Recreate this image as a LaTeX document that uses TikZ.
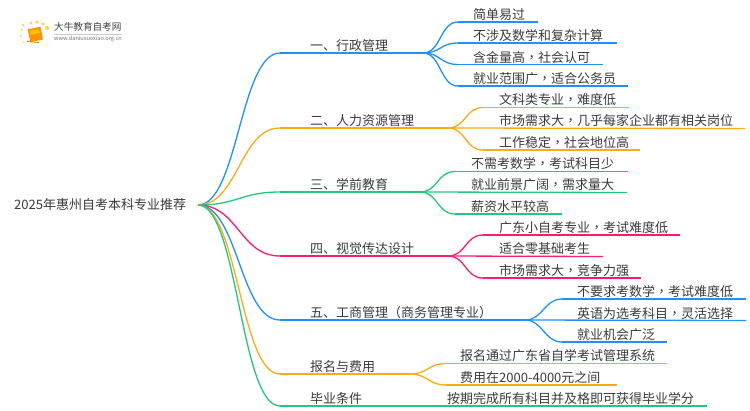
\documentclass[tikz,border=0pt]{standalone}
\usepackage{fontspec}
\setmainfont{Noto Sans CJK SC}
\newfontfamily\cjkmid{Noto Sans CJK TC}
\newcommand{\midc}{{\cjkmid ，}}

\definecolor{mInk}{HTML}{3a3a3a}
\definecolor{mBlue}{HTML}{1e90ff}
\definecolor{mOrange}{HTML}{ffaa14}
\definecolor{mGreen}{HTML}{1fc97c}
\definecolor{mPink}{HTML}{ff1a75}
\definecolor{mGold}{HTML}{ffd45e}

\begin{document}
\begin{tikzpicture}
  [x=1bp,y=-1bp,
  lab/.style={anchor=west,inner sep=0pt,text=mInk,text height=12bp,text depth=1bp,
    font=\fontsize{13bp}{15bp}\selectfont},
  pt/.style={coordinate},
  wire/.style={line width=1.3bp,draw=#1},
  bow/.style={to path={.. controls ([xshift=-#1]\tikztostart) and ([xshift=#1]\tikztotarget) .. (\tikztotarget)}}]

  \useasboundingbox (0,0) rectangle (750,410);

% logo
  \foreach \dotx/\doty/\dotr in {23/25/1.3,31/23/1.7,37/22/1.8,43/24/1.8,47/28/2.2,22/30/1.2,21/36/1.1,23/42/0.9}
    \fill[mGold] (\dotx,\doty) circle (\dotr);
  \fill[orange!85!yellow,rotate around={12:(35,35)}] (29,28) rectangle (42,41);
  \fill[orange!45!yellow,rotate around={12:(35,35)}] (31,30) rectangle (40,34);
  \draw[orange!90!black,line width=0.8bp] (27,41.5) -- (39,42.5);
  \node[lab,text=black!75,font=\fontsize{9.6bp}{11bp}\selectfont] (logo) at (54,25.3) {大牛教育自考网};
  \node[lab,text=black!55,font=\fontsize{5.6bp}{7bp}\selectfont] (url) at (54,34.7) {www.daniuxuexiao.org.cn};
  \draw[black!20,line width=0.4bp] ([yshift=-1.7bp]logo.south west) -- ([yshift=-1.7bp]logo.south east);

  \node[lab] (root) at (14,204) {2025年惠州自考本科专业推荐};
  \node[pt] (fan) at (198,205) {};

% admin
  \node[pt] (admS) at (280,53) {} edge[wire=mBlue,bow=40bp] (fan);
  \node[pt] (admJ) at (423,53) {} edge[wire=mBlue] (admS);
  \node[lab] (adm) at (310,45) {一、行政管理};

  \node[pt] (adm1S) at (458,22) {} edge[wire=mBlue,bow=18bp] (admJ);
  \node[pt] (adm1E) at (538,22) {} edge[wire=mBlue] (adm1S);
  \node[lab] (adm1) at (473,13.5) {简单易过};
  \node[pt] (adm2S) at (458,43) {} edge[wire=mBlue,bow=18bp] (admJ);
  \node[pt] (adm2E) at (617,43) {} edge[wire=mBlue] (adm2S);
  \node[lab] (adm2) at (473,35) {不涉及数学和复杂计算};
  \node[pt] (adm3S) at (458,64.5) {} edge[wire=mBlue,bow=18bp] (admJ);
  \node[pt] (adm3E) at (603,64.5) {} edge[wire=mBlue] (adm3S);
  \node[lab] (adm3) at (473,56.5) {含金量高\midc 社会认可};
  \node[pt] (adm4S) at (458,86) {} edge[wire=mBlue,bow=18bp] (admJ);
  \node[pt] (adm4E) at (628,86) {} edge[wire=mBlue] (adm4S);
  \node[lab] (adm4) at (473,77.5) {就业范围广\midc 适合公务员};

% hr
  \node[pt] (hrS) at (280,128) {} edge[wire=mOrange,bow=40bp] (fan);
  \node[pt] (hrJ) at (448,128) {} edge[wire=mOrange] (hrS);
  \node[lab] (hr) at (310,120) {二、人力资源管理};

  \node[pt] (hr1S) at (483,107.5) {} edge[wire=mOrange,bow=18bp] (hrJ);
  \node[pt] (hr1E) at (629,107.5) {} edge[wire=mOrange] (hr1S);
  \node[lab] (hr1) at (499,99) {文科类专业\midc 难度低};
  \node[pt] (hr2E) at (745,128.5) {} edge[wire=mOrange] (hrJ);
  \node[lab] (hr2) at (499,120) {市场需求大\midc 几乎每家企业都有相关岗位};
  \node[pt] (hr3S) at (483,150) {} edge[wire=mOrange,bow=18bp] (hrJ);
  \node[pt] (hr3E) at (640,150) {} edge[wire=mOrange] (hr3S);
  \node[lab] (hr3) at (499,141.5) {工作稳定\midc 社会地位高};

% pre-school
  \node[pt] (eduS) at (280,192) {} edge[wire=mGreen,bow=40bp] (fan);
  \node[pt] (eduJ) at (420,192) {} edge[wire=mGreen] (eduS);
  \node[lab] (edu) at (310,184) {三、学前教育};

  \node[pt] (edu1S) at (455,171.5) {} edge[wire=mGreen,bow=18bp] (eduJ);
  \node[pt] (edu1E) at (628,171.5) {} edge[wire=mGreen] (edu1S);
  \node[lab] (edu1) at (471,163) {不需考数学\midc 考试科目少};
  \node[pt] (edu2E) at (627,192.5) {} edge[wire=mGreen] (eduJ);
  \node[lab] (edu2) at (471,184) {就业前景广阔\midc 需求量大};
  \node[pt] (edu3S) at (455,214) {} edge[wire=mGreen,bow=18bp] (eduJ);
  \node[pt] (edu3E) at (562,214) {} edge[wire=mGreen] (edu3S);
  \node[lab] (edu3) at (471,205.5) {薪资水平较高};

% visual
  \node[pt] (visS) at (280,256) {} edge[wire=mPink,bow=40bp] (fan);
  \node[pt] (visJ) at (448,256) {} edge[wire=mPink] (visS);
  \node[lab] (vis) at (310,248) {四、视觉传达设计};

  \node[pt] (vis1S) at (483,235) {} edge[wire=mPink,bow=18bp] (visJ);
  \node[pt] (vis1E) at (680,235) {} edge[wire=mPink] (vis1S);
  \node[lab] (vis1) at (499,227) {广东小自考专业\midc 考试难度低};
  \node[pt] (vis2E) at (603,256.5) {} edge[wire=mPink] (visJ);
  \node[lab] (vis2) at (499,248) {适合零基础考生};
  \node[pt] (vis3S) at (483,278) {} edge[wire=mPink,bow=18bp] (visJ);
  \node[pt] (vis3E) at (641,278) {} edge[wire=mPink] (vis3S);
  \node[lab] (vis3) at (499,269.5) {市场需求大\midc 竞争力强};

% business
  \node[pt] (bizS) at (280,320) {} edge[wire=mBlue,bow=40bp] (fan);
  \node[pt] (bizJ) at (525,320) {} edge[wire=mBlue] (bizS);
  \node[lab] (biz) at (310,312) {五、工商管理{\cjkmid （}商务管理专业{\cjkmid ）}};

  \node[pt] (biz1S) at (562,299) {} edge[wire=mBlue,bow=18bp] (bizJ);
  \node[pt] (biz1E) at (746,299) {} edge[wire=mBlue] (biz1S);
  \node[lab] (biz1) at (577,291) {不要求考数学\midc 考试难度低};
  \node[pt] (biz2E) at (746,320.5) {} edge[wire=mBlue] (bizJ);
  \node[lab] (biz2) at (577,312.5) {英语为选考科目\midc 灵活选择};
  \node[pt] (biz3S) at (562,342) {} edge[wire=mBlue,bow=18bp] (bizJ);
  \node[pt] (biz3E) at (667,342) {} edge[wire=mBlue] (biz3S);
  \node[lab] (biz3) at (577,333.5) {就业机会广泛};

% fee
  \node[pt] (feeS) at (280,374) {} edge[wire=mOrange,bow=40bp] (fan);
  \node[pt] (feeJ) at (410,374) {} edge[wire=mOrange] (feeS);
  \node[lab] (fee) at (310,366) {报名与费用};

  \node[pt] (fee1S) at (446,363.5) {} edge[wire=mOrange,bow=18bp] (feeJ);
  \node[pt] (fee1E) at (667,363.5) {} edge[wire=mOrange] (fee1S);
  \node[lab] (fee1) at (460,355) {报名通过广东省自学考试管理系统};
  \node[pt] (fee2S) at (446,385) {} edge[wire=mOrange,bow=18bp] (feeJ);
  \node[pt] (fee2E) at (617,385) {} edge[wire=mOrange] (fee2S);
  \node[lab] (fee2) at (460,376.5) {费用在2000-4000元之间};

% graduate
  \node[pt] (gradS) at (280,406) {} edge[wire=mGreen,bow=40bp] (fan);
  \node[pt] (gradE) at (707,406) {} edge[wire=mGreen] (gradS);
  \node[lab] (grad) at (310,398) {毕业条件};
  \node[lab] (grad1) at (447,398) {按期完成所有科目并及格即可获得毕业学分};
\end{tikzpicture}
\end{document}
